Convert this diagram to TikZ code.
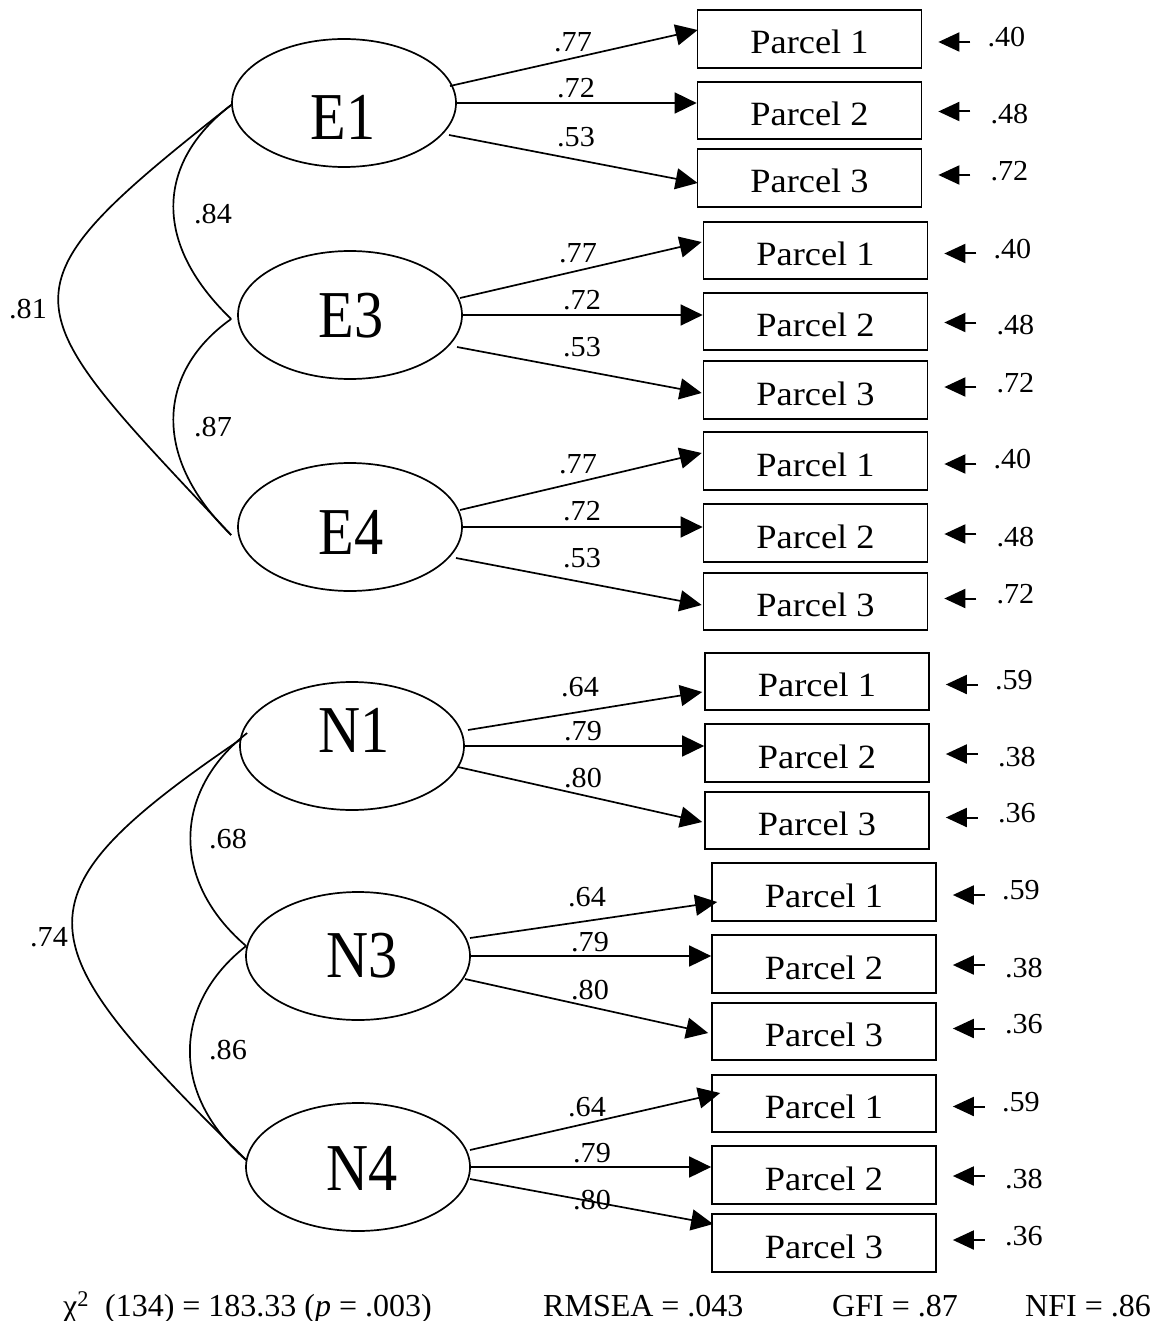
\documentclass[tikz,border=0pt]{standalone}
\usepackage{fontspec}
\setmainfont{Liberation Serif}
\newfontfamily\parcelfont[FakeStretch=1.07]{Liberation Serif}
\newfontfamily\numfont[FakeStretch=1.04]{Liberation Serif}
\newfontfamily\latentfont[FakeStretch=0.87]{Liberation Serif}
\usetikzlibrary{arrows.meta,calc,shapes.geometric}

\tikzset{
  latent/.style={draw, ellipse, minimum width=224pt, minimum height=128pt,
    line width=1.7pt, inner sep=0pt},
  latentlabel/.style={font=\latentfont\fontsize{67}{70}\selectfont, inner sep=0pt},
  parcel/.style={draw, rectangle, minimum width=224pt, minimum height=57.5pt,
    line width=1.7pt, inner sep=0pt, text height=30pt, text depth=0pt,
    font=\parcelfont\fontsize{34}{36}\selectfont},
  num/.style={font=\numfont\fontsize{29}{30}\selectfont, inner sep=0pt},
  stat/.style={font=\fontsize{32}{34}\selectfont, inner sep=0pt, anchor=base west},
  load/.style={-{Triangle[length=22pt,width=21pt]}, line width=1.7pt},
  errarr/.style={-{Triangle[length=21pt,width=19pt]}, line width=2pt},
  cov/.style={line width=1.7pt},
}

\begin{document}
\begin{tikzpicture}[x=1pt, y=-1pt]
\useasboundingbox (0,0) rectangle (1153,1321);
\fill[white] (0,0) rectangle (1153,1321);

% latent factors
\node[latent] (E1) at (344,103) {};
\node[latentlabel] (E1t) at (343,117) {E1};
\node[latent] (E3) at (350,315) {};
\node[latentlabel] (E3t) at (351,316) {E3};
\node[latent] (E4) at (350,527) {};
\node[latentlabel] (E4t) at (351,532) {E4};
\node[latent] (N1) at (352,746) {};
\node[latentlabel] (N1t) at (354,730) {N1};
\node[latent] (N3) at (358,956) {};
\node[latentlabel] (N3t) at (362,956) {N3};
\node[latent] (N4) at (358,1167) {};
\node[latentlabel] (N4t) at (362,1168) {N4};

% indicator boxes
\node[parcel] (b11) at (809.5,39) {Parcel 1};
\node[parcel] (b12) at (809.5,110.5) {Parcel 2};
\node[parcel] (b13) at (809.5,178) {Parcel 3};
\node[parcel] (b31) at (815.5,250.5) {Parcel 1};
\node[parcel] (b32) at (815.5,321.5) {Parcel 2};
\node[parcel] (b33) at (815.5,390) {Parcel 3};
\node[parcel] (b41) at (815.5,461) {Parcel 1};
\node[parcel] (b42) at (815.5,533) {Parcel 2};
\node[parcel] (b43) at (815.5,601.5) {Parcel 3};
\node[parcel] (c11) at (817,681.5) {Parcel 1};
\node[parcel] (c12) at (817,753) {Parcel 2};
\node[parcel] (c13) at (817,820.5) {Parcel 3};
\node[parcel] (c31) at (824,892) {Parcel 1};
\node[parcel] (c32) at (824,964) {Parcel 2};
\node[parcel] (c33) at (824,1031.5) {Parcel 3};
\node[parcel] (c41) at (824,1103.5) {Parcel 1};
\node[parcel] (c42) at (824,1175) {Parcel 2};
\node[parcel] (c43) at (824,1243) {Parcel 3};

% factor loadings
\draw[load] ($(E1.center)+(106,-17)$) -- ($(b11.west)+(1,-9)$);
\draw[load] (E1.east) -- (E1.east -| b12.west);
\draw[load] ($(E1.center)+(105,32)$) -- ($(b13.west)+(1,5)$);
\draw[load] ($(E3.center)+(110,-17)$) -- ($(b31.west)+(-1,-8.5)$);
\draw[load] (E3.east) -- (E3.east -| b32.west);
\draw[load] ($(E3.center)+(107,32)$) -- ($(b33.west)+(-1,3)$);
\draw[load] ($(E4.center)+(110,-17)$) -- ($(b41.west)+(-1,-8)$);
\draw[load] (E4.east) -- (E4.east -| b42.west);
\draw[load] ($(E4.center)+(106,31)$) -- ($(b43.west)+(-1,3.5)$);
\draw[load] ($(N1.center)+(116,-16)$) -- ($(c11.west)+(-2,10.5)$);
\draw[load] (N1.east) -- (N1.east -| c12.west);
\draw[load] ($(N1.center)+(106,21)$) -- ($(c13.west)+(-2,1.5)$);
\draw[load] ($(N3.center)+(112,-18)$) -- ($(c31.west)+(6,10)$);
\draw[load] (N3.east) -- (N3.east -| c32.west);
\draw[load] ($(N3.center)+(107,23)$) -- ($(c33.west)+(-3,1.5)$);
\draw[load] ($(N4.center)+(112,-17)$) -- ($(c41.west)+(9,-10.5)$);
\draw[load] (N4.east) -- (N4.east -| c42.west);
\draw[load] ($(N4.center)+(112,12)$) -- ($(c43.west)+(2,-19)$);

% loading values
\node[num] (v11) at (573,42) {.77};
\node[num] (v12) at (576,88) {.72};
\node[num] (v13) at (576,137) {.53};
\node[num] (v31) at (578,253) {.77};
\node[num] (v32) at (582,300) {.72};
\node[num] (v33) at (582,347) {.53};
\node[num] (v41) at (578,464) {.77};
\node[num] (v42) at (582,511) {.72};
\node[num] (v43) at (582,558) {.53};
\node[num] (w11) at (580,687) {.64};
\node[num] (w12) at (583,731) {.79};
\node[num] (w13) at (583,778) {.80};
\node[num] (w31) at (587,897) {.64};
\node[num] (w32) at (590,942) {.79};
\node[num] (w33) at (590,990) {.80};
\node[num] (w41) at (587,1107) {.64};
\node[num] (w42) at (592,1153) {.79};
\node[num] (w43) at (592,1200) {.80};

% error terms
\foreach \b/\v/\ay/\lx/\ly in {
  b11/.40/3/84/-1.5, b12/.48/1/87/4, b13/.72/-3/87/-7,
  b31/.40/3/84/-1.5, b32/.48/1/87/4, b33/.72/-3/87/-7,
  b41/.40/3/84/-1.5, b42/.48/1/87/4, b43/.72/-3/87/-7,
  c11/.59/3/84/-1.5, c12/.38/1/87/4, c13/.36/-3/87/-7,
  c31/.59/3/84/-1.5, c32/.38/1/87/4, c33/.36/-3/87/-7,
  c41/.59/3/84/-1.5, c42/.38/1/87/4, c43/.36/-3/87/-7}{
  \draw[errarr] ($(\b.east)+(48,\ay)$) -- ($(\b.east)+(16,\ay)$);
  \node[num] (err-\b) at ($(\b.east)+(\lx,\ly)$) {\v};
}

% factor correlations
\coordinate (e1a) at ($(E1.west)+(0,2)$);
\coordinate (e3a) at ($(E3.west)+(-6,4)$);
\coordinate (e4a) at ($(E4.west)+(-6,8)$);
\draw[cov] (e1a) .. controls +(-72,55) and +(-82,-79) .. (e3a);
\draw[cov] (e3a) .. controls +(-72,51) and +(-82,-80) .. (e4a);
\draw[cov] (e1a) .. controls +(-241,190) and +(-220,-235) .. (e4a);
\node[num] (r13) at (213,214) {.84};
\node[num] (r34) at (213,427) {.87};
\node[num] (r14) at (28,309) {.81};

\coordinate (n1a) at ($(N1.west)+(8,-13)$);
\coordinate (n1b) at ($(N1.west)+(2,-7)$);
\coordinate (n3a) at ($(N3.west)+(1,-10)$);
\coordinate (n4a) at ($(N4.west)+(1,-7)$);
\draw[cov] (n1a) .. controls +(-73,57) and +(-77,-66) .. (n3a);
\draw[cov] (n3a) .. controls +(-73,57) and +(-77,-66) .. (n4a);
\draw[cov] (n1b) .. controls +(-237,161) and +(-220,-218) .. (n4a);
\node[num] (s13) at (228,839) {.68};
\node[num] (s34) at (228,1050) {.86};
\node[num] (s14) at (49,937) {.74};

% fit statistics
\node[stat] (chi) at (63,1316) {χ\textsuperscript{2}\ \ (134) = 183.33 (\textit{p} = .003)};
\node[stat] (rmsea) at (543,1316) {RMSEA = .043};
\node[stat] (gfi) at (832,1316) {GFI = .87};
\node[stat] (nfi) at (1025,1316) {NFI = .86};
\end{tikzpicture}
\end{document}
